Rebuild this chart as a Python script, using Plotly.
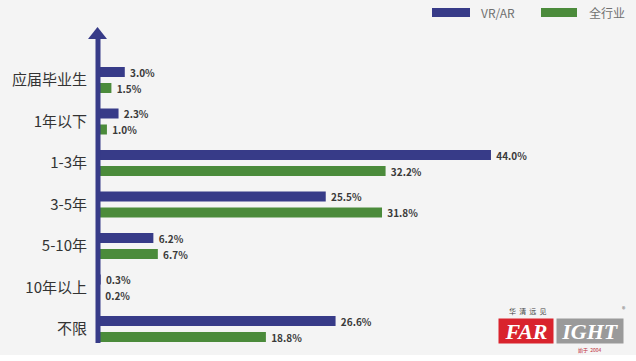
import plotly.graph_objects as go

categories = ["应届毕业生", "1年以下", "1-3年", "3-5年", "5-10年", "10年以上", "不限"]
vrar = [3.0, 2.3, 44.0, 25.5, 6.2, 0.3, 26.6]
industry = [1.5, 1.0, 32.2, 31.8, 6.7, 0.2, 18.8]
series_names = ["VR/AR", "全行业"]

NAVY = "#373b88"
GREEN = "#4b8b3b"
BG = "#f4f4f4"
FONT = "Noto Sans CJK SC"

W, H = 636, 361
ML, MR, MT, MB = 98, 20, 38, 18
PW, PH = W - ML - MR, H - MT - MB


def px(x):
    return (x - ML) / PW


def py(y):
    return (H - MB - y) / PH


fig = go.Figure()
for name, vals, col in [(series_names[0], vrar, NAVY), (series_names[1], industry, GREEN)]:
    fig.add_trace(go.Bar(
        y=categories, x=vals, orientation="h", name=name,
        marker=dict(color=col, line=dict(width=0)),
        text=[f" {v:.1f}%" for v in vals], textposition="outside",
        constraintext="none",
        textfont=dict(family=FONT, size=10, color="#3a3a3a", weight=600),
        cliponaxis=False, showlegend=False, hoverinfo="skip",
    ))

shapes = []
# arrow head on axis
shapes.append(dict(type="path", xref="paper", yref="paper",
                   path=f"M {px(88)} {py(39)} L {px(97.5)} {py(27)} L {px(107)} {py(39)} Z",
                   fillcolor=NAVY, line=dict(width=0)))
# axis line
shapes.append(dict(type="rect", xref="paper", yref="paper",
                   x0=px(95.5), x1=px(100.5), y0=py(343), y1=py(37),
                   fillcolor=NAVY, line=dict(width=0)))
# legend swatches
shapes.append(dict(type="rect", xref="paper", yref="paper",
                   x0=px(432), x1=px(470), y0=py(17), y1=py(8),
                   fillcolor=NAVY, line=dict(width=0)))
shapes.append(dict(type="rect", xref="paper", yref="paper",
                   x0=px(541), x1=px(577), y0=py(17), y1=py(8),
                   fillcolor=GREEN, line=dict(width=0)))
# white strip at bottom
shapes.append(dict(type="rect", xref="paper", yref="paper",
                   x0=px(0), x1=px(W), y0=py(H), y1=py(355),
                   fillcolor="white", line=dict(width=0), layer="above"))

annotations = [
    dict(text=series_names[0], x=px(479), y=py(13), xref="paper", yref="paper",
         xanchor="left", yanchor="middle", showarrow=False,
         font=dict(family=FONT, size=12, color="#707070")),
    dict(text=series_names[1], x=px(587), y=py(13), xref="paper", yref="paper",
         xanchor="left", yanchor="middle", showarrow=False,
         font=dict(family=FONT, size=12, color="#707070")),
    # logo watermark
    dict(text="华  清  远  见", x=px(507), y=py(311), xref="paper", yref="paper",
         xanchor="left", yanchor="middle", showarrow=False,
         font=dict(family=FONT, size=7, color="#444444")),
    dict(text="FAR", x=px(526), y=py(331), xref="paper", yref="paper",
         xanchor="center", yanchor="middle", showarrow=False,
         bgcolor="#d9232d", width=52, height=22,
         font=dict(family="Liberation Serif", size=22, color="white", weight="bold", style="italic")),
    dict(text="IGHT", x=px(590), y=py(331), xref="paper", yref="paper",
         xanchor="center", yanchor="middle", showarrow=False,
         bgcolor="#9a9a9a", width=64, height=22,
         font=dict(family="Liberation Serif", size=22, color="white", weight="bold", style="italic")),
    dict(text="®", x=px(624), y=py(309), xref="paper", yref="paper",
         xanchor="center", yanchor="middle", showarrow=False,
         font=dict(family=FONT, size=7, color="#666666")),
    dict(text="始于  2004", x=px(590), y=py(350), xref="paper", yref="paper",
         xanchor="center", yanchor="middle", showarrow=False,
         font=dict(family=FONT, size=5, color="#c0303a")),
]

fig.update_layout(
    width=W, height=H,
    margin=dict(l=ML, r=MR, t=MT, b=MB),
    paper_bgcolor=BG, plot_bgcolor=BG,
    barmode="group", bargap=0.229, bargroupgap=0.375,
    font=dict(family=FONT),
    hovermode=False,
    xaxis=dict(range=[0, 58], visible=False, fixedrange=True),
    yaxis=dict(range=[6.337, -1.012], showgrid=False, zeroline=False,
               showline=False, ticks="", ticklabelstandoff=10, fixedrange=True,
               tickfont=dict(family=FONT, size=15, color="#333333")),
    shapes=shapes, annotations=annotations,
)

fig.write_html("out.html", config={"displayModeBar": False},
               post_script="document.body.style.margin='0';document.body.style.overflow='hidden';")
